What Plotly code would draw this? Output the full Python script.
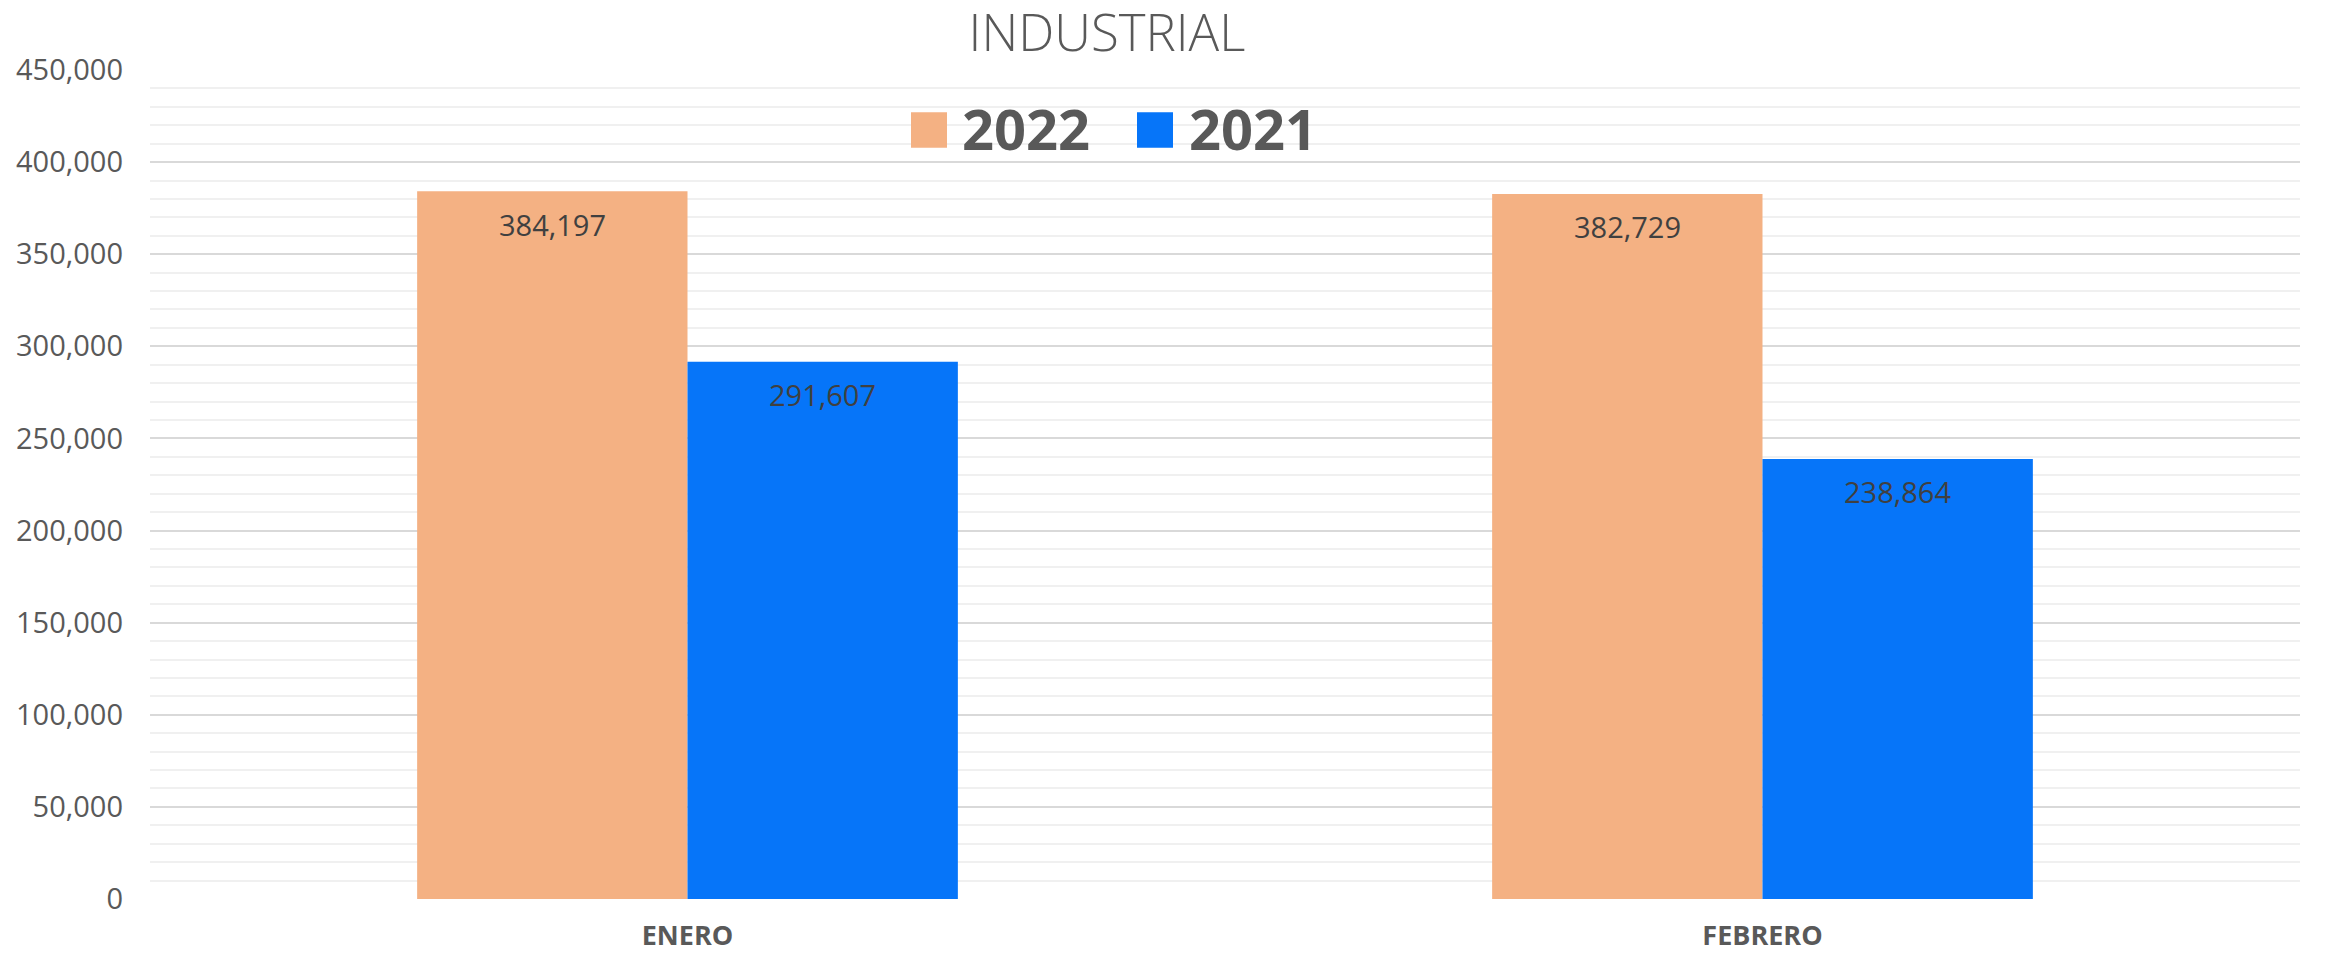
import plotly.graph_objects as go

categories = ["ENERO", "FEBRERO"]
series_names = ["2022", "2021"]
values_2022 = [384197, 382729]
values_2021 = [291607, 238864]
colors = ["#F4B183", "#0675F9"]
y_ticks = list(range(0, 450001, 50000))

W, H = 2326, 965
ML, MR, MT, MB = 150, 26, 70, 53
PW = W - ML - MR
PH = H - MT - MB
BARGAP = 0.497


def px_x(p):
    return (p - ML) / PW


def px_y(p):
    return (H - MB - p) / PH


series_values = [values_2022, values_2021]

fig = go.Figure()
for name, vals, col in zip(series_names, series_values, colors):
    fig.add_trace(go.Bar(
        x=categories, y=vals, name=name, marker=dict(color=col, line=dict(width=0)),
        showlegend=False,
    ))

# value labels placed inside the top of each bar
bar_px = PW / len(categories) * (1 - BARGAP) / len(series_names)
for i, vals in enumerate(series_values):
    shift = (i - (len(series_names) - 1) / 2) * bar_px
    for cat, v in zip(categories, vals):
        fig.add_annotation(x=cat, y=v, xref="x", yref="y", text=f"{v:,}",
                           showarrow=False, xshift=shift, yshift=-33,
                           xanchor="center", yanchor="middle",
                           font=dict(family="Open Sans", size=29, color="#404040"))

fig.update_layout(
    width=W, height=H,
    margin=dict(l=ML, r=MR, t=MT, b=MB),
    paper_bgcolor="white", plot_bgcolor="white",
    barmode="group", bargap=BARGAP, bargroupgap=0,
    title=dict(text="INDUSTRIAL", x=1107 / W, xanchor="center", xref="container",
               y=1 - 33 / H, yanchor="middle", yref="container",
               font=dict(family="Open Sans", size=51, color="#595959", weight=300)),
    xaxis=dict(showgrid=False, zeroline=False, showline=False, ticks="",
               tickfont=dict(family="Open Sans", size=27, color="#595959", weight="bold"),
               ticklabelstandoff=18),
    yaxis=dict(range=[0, 450000], tickvals=y_ticks, tickformat=",",
               showgrid=True, gridcolor="#D9D9D9", gridwidth=2,
               zeroline=False, showline=False, ticks="",
               tickfont=dict(family="Open Sans", size=29, color="#595959"),
               ticklabelstandoff=26,
               minor=dict(dtick=10000, showgrid=True, gridcolor="#F0F0F0", gridwidth=2)),
)

# manual legend (large swatches)
legend_items = [
    (911, 947, 960, series_names[0], colors[0]),
    (1137, 1173, 1187, series_names[1], colors[1]),
]
for sx0, sx1, tx, label, col in legend_items:
    fig.add_shape(type="rect", xref="paper", yref="paper",
                  x0=px_x(sx0), x1=px_x(sx1), y0=px_y(149), y1=px_y(113),
                  fillcolor=col, line=dict(width=0), layer="above")
    fig.add_annotation(text=label, xref="paper", yref="paper",
                       x=px_x(tx), y=px_y(129), xanchor="left", yanchor="middle",
                       showarrow=False,
                       font=dict(family="Open Sans", size=56, color="#595959", weight="bold"))

fig.write_html(
    "out.html",
    config={"displayModeBar": False},
    post_script="document.body.style.margin='0';document.body.style.overflow='hidden';",
)
